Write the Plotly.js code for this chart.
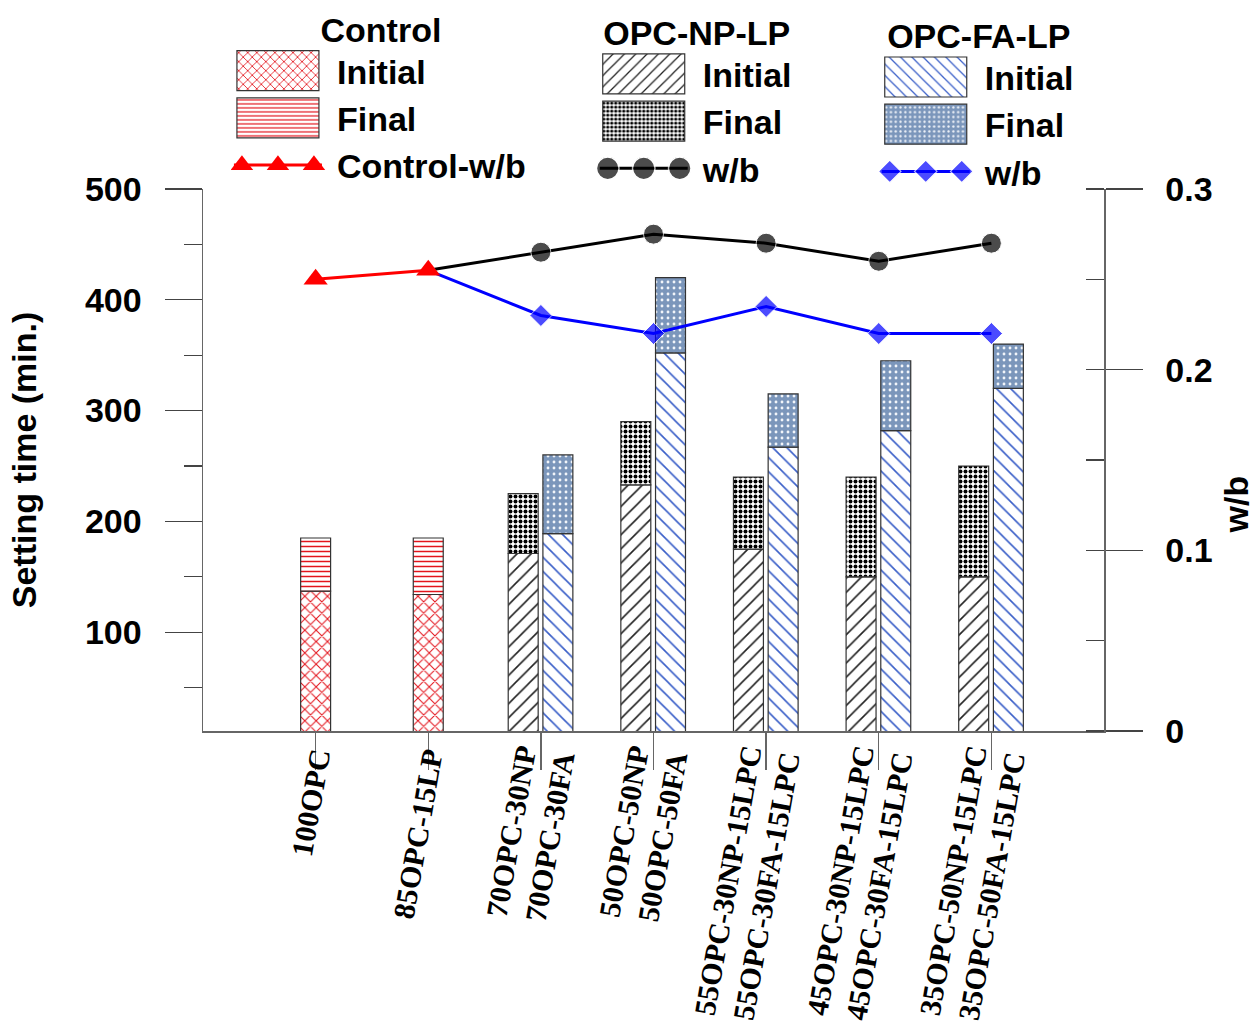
<!DOCTYPE html>
<html>
<head>
<meta charset="utf-8">
<script src="https://cdn.plot.ly/plotly-3.0.1.min.js"></script>
<style>
  html, body { margin: 0; padding: 0; background: #ffffff; }
  #chart { width: 1256px; height: 1036px; }
</style>
</head>
<body>
<div id="chart"></div>
<script>
// ---------------- data ----------------
const categories = [
  '100OPC',
  '85OPC-15LP',
  '70OPC-30NP<br>70OPC-30FA',
  '50OPC-50NP<br>50OPC-50FA',
  '55OPC-30NP-15LPC<br>55OPC-30FA-15LPC',
  '45OPC-30NP-15LPC<br>45OPC-30FA-15LPC',
  '35OPC-50NP-15LPC<br>35OPC-50FA-15LPC'
];
const controlCats = categories.slice(0, 2);
const blendCats = categories.slice(2);
const wbCats = categories.slice(1);

const controlInitial = [137, 134];
const controlFinal   = [185, 185];
const npInitial = [171, 233, 175, 150, 150];
const npFinal   = [225, 290, 240, 240, 250];
const faInitial = [189, 352, 267, 282, 320];
const faFinal   = [260, 420, 315, 345, 360];

const controlWB = [0.25, 0.255];
const npWB = [0.255, 0.265, 0.275, 0.27, 0.26, 0.27];
const faWB = [0.255, 0.23, 0.22, 0.235, 0.22, 0.22];

const yTicks = [100, 200, 300, 400, 500];
const y2Ticks = [0, 0.1, 0.2, 0.3];

// ---------------- styles ----------------
const sansBold = {family: 'Liberation Sans, Arial, sans-serif', size: 34, color: '#000', weight: 700};
const serifBold = {family: 'Liberation Serif, Times New Roman, serif', size: 30, color: '#000', weight: 700};
const barLine = {color: '#333333', width: 1.2};
const BW = 0.266;

function diff(a, b) { return a.map((v, i) => v - b[i]); }

const traces = [
  // Control
  {type: 'bar', x: controlCats, y: controlInitial, name: 'Initial', legend: 'legend',
   width: BW, offset: -BW / 2,
   marker: {color: '#ffffff', line: barLine,
     pattern: {shape: 'x', fgcolor: '#e3141c', bgcolor: '#ffffff', size: 8, solidity: 0.24}}},
  {type: 'bar', x: controlCats, y: diff(controlFinal, controlInitial), base: controlInitial,
   name: 'Final', legend: 'legend', width: BW, offset: -BW / 2,
   marker: {color: '#ffffff', line: barLine,
     pattern: {shape: '-', fgcolor: '#e3141c', bgcolor: '#ffffff', size: 5, solidity: 0.3}}},
  // OPC-NP-LP
  {type: 'bar', x: blendCats, y: npInitial, name: 'Initial', legend: 'legend2',
   width: BW, offset: -0.29,
   marker: {color: '#ffffff', line: barLine,
     pattern: {shape: '/', fgcolor: '#222222', bgcolor: '#ffffff', size: 10, solidity: 0.16}}},
  {type: 'bar', x: blendCats, y: diff(npFinal, npInitial), base: npInitial,
   name: 'Final', legend: 'legend2', width: BW, offset: -0.29,
   marker: {color: '#ffffff', line: barLine,
     pattern: {shape: '.', fgcolor: '#000000', bgcolor: '#ffffff', size: 5, solidity: 0.5}}},
  // OPC-FA-LP
  {type: 'bar', x: blendCats, y: faInitial, name: 'Initial', legend: 'legend3',
   width: BW, offset: 0.018,
   marker: {color: '#ffffff', line: barLine,
     pattern: {shape: '\\', fgcolor: '#3a5fc8', bgcolor: '#ffffff', size: 10, solidity: 0.16}}},
  {type: 'bar', x: blendCats, y: diff(faFinal, faInitial), base: faInitial,
   name: 'Final', legend: 'legend3', width: BW, offset: 0.018,
   marker: {color: '#7b96bb', line: barLine,
     pattern: {shape: '.', fgcolor: '#f2f5fa', bgcolor: '#7b96bb', size: 6, solidity: 0.18, fillmode: 'replace'}}},
  // w/b lines
  {type: 'scatter', mode: 'lines+markers', x: wbCats, y: npWB, yaxis: 'y2',
   name: 'w/b', legend: 'legend2',
   line: {color: '#000000', width: 3},
   marker: {symbol: 'circle', color: '#000000', size: [0, 20, 20, 20, 20, 20]}},
  {type: 'scatter', mode: 'lines+markers', x: wbCats, y: faWB, yaxis: 'y2',
   name: 'w/b', legend: 'legend3',
   line: {color: '#0000ff', width: 3},
   marker: {symbol: 'diamond', color: '#0000ff', size: [0, 17, 17, 17, 17, 17]}},
  {type: 'scatter', mode: 'lines+markers', x: controlCats, y: controlWB, yaxis: 'y2',
   name: 'Control-w/b', legend: 'legend',
   line: {color: '#ff0000', width: 3},
   marker: {symbol: 'triangle-up', color: '#ff0000', size: 21}}
];

const legendCommon = {
  orientation: 'v', yanchor: 'top', xanchor: 'left',
  bgcolor: 'rgba(0,0,0,0)', borderwidth: 0,
  font: sansBold, itemwidth: 96, traceorder: 'normal',
  itemclick: false, itemdoubleclick: false
};

const layout = {
  width: 1256, height: 1036,
  margin: {l: 203, r: 152, t: 189, b: 305, pad: 0, autoexpand: false},
  paper_bgcolor: '#ffffff', plot_bgcolor: '#ffffff',
  barmode: 'overlay',
  showlegend: true,
  legend: Object.assign({}, legendCommon, {x: 0.031, y: 1.3526,
    title: {text: 'Control', font: sansBold, side: 'top center'}}),
  legend2: Object.assign({}, legendCommon, {x: 0.437, y: 1.3466,
    title: {text: 'OPC-NP-LP', font: sansBold, side: 'top center'}}),
  legend3: Object.assign({}, legendCommon, {x: 0.75, y: 1.341,
    title: {text: 'OPC-FA-LP', font: sansBold, side: 'top center'}}),
  xaxis: {
    type: 'category', categoryorder: 'array', categoryarray: categories,
    range: [-1, 7], showgrid: false, zeroline: false,
    showline: true, linecolor: '#666666', linewidth: 1.5,
    ticks: 'outside', ticklen: 37, tickwidth: 1.3, tickcolor: '#666666',
    tickangle: -80, tickfont: serifBold, ticklabelstandoff: -42, fixedrange: true
  },
  yaxis: {
    range: [10.8, 500], tickvals: yTicks, showgrid: false, zeroline: false,
    showline: true, linecolor: '#666666', linewidth: 1.5,
    ticks: 'outside', ticklen: 37, tickwidth: 1.3, tickcolor: '#444444',
    minor: {ticks: 'outside', ticklen: 18, dtick: 50, tick0: 0, tickcolor: '#444444', tickwidth: 1.3, showgrid: false},
    tickfont: sansBold, ticklabelstandoff: 16,
    title: {text: 'Setting time (min.)', font: sansBold, standoff: 38}
  },
  yaxis2: {
    overlaying: 'y', side: 'right', range: [0, 0.3], tickvals: y2Ticks,
    showgrid: false, zeroline: false,
    showline: true, linecolor: '#666666', linewidth: 1.5,
    ticks: 'outside', ticklen: 37, tickwidth: 1.3, tickcolor: '#444444',
    minor: {ticks: 'inside', ticklen: 18, dtick: 0.05, tick0: 0, tickcolor: '#444444', tickwidth: 1.3, showgrid: false},
    tickfont: sansBold, ticklabelstandoff: 16
  },
  annotations: [
    {text: 'w/b', xref: 'paper', yref: 'paper', x: 1.1465, y: 0.418,
     showarrow: false, textangle: -90, font: sansBold, xanchor: 'center', yanchor: 'middle'}
  ]
};

const gd = document.getElementById('chart');

// enlarge Plotly's own legend keys so they resemble the boxed keys of the original figure
function enlargeLegend() {
  gd.querySelectorAll('.wbclone').forEach(function (n) { n.remove(); });
  gd.querySelectorAll('g.legendpoints path').forEach(function (p) {
    const d = p.getAttribute('d') || '';
    if (/^M6,6H-6V-6H6Z/.test(d)) p.setAttribute('d', 'M35,20H-47V-20H35Z');
  });
  gd.querySelectorAll('g.traces').forEach(function (g) {
    const pt = g.querySelector('path.scatterpts');
    if (!pt) return;
    if (!pt.dataset.cx) {
      const m = /translate\(([-\d.]+)/.exec(pt.getAttribute('transform') || '');
      pt.dataset.cx = String((m ? parseFloat(m[1]) : 53) - 6);
    }
    const cx = parseFloat(pt.dataset.cx);
    let k = 1;
    try {
      const bb = pt.getBBox();
      const ext = Math.max(bb.width, bb.height);
      if (ext > 0) k = 22.5 / ext;
    } catch (e) {}
    pt.setAttribute('transform', 'translate(' + cx + ',0) scale(' + k + ')');
    const ln = g.querySelector('g.legendlines path');
    if (ln) ln.setAttribute('d', 'M' + (cx - 44) + ',0h88');
    [-36, 36].forEach(function (dx) {
      const c = pt.cloneNode(true);
      c.setAttribute('class', 'scatterpts wbclone');
      c.setAttribute('transform', 'translate(' + (cx + dx) + ',0) scale(' + k + ')');
      pt.parentNode.appendChild(c);
    });
  });
}

Plotly.newPlot(gd, traces, layout, {displayModeBar: false, staticPlot: true}).then(function () {
  enlargeLegend();
  gd.on('plotly_afterplot', enlargeLegend);
  setTimeout(enlargeLegend, 200);
});
</script>
</body>
</html>
